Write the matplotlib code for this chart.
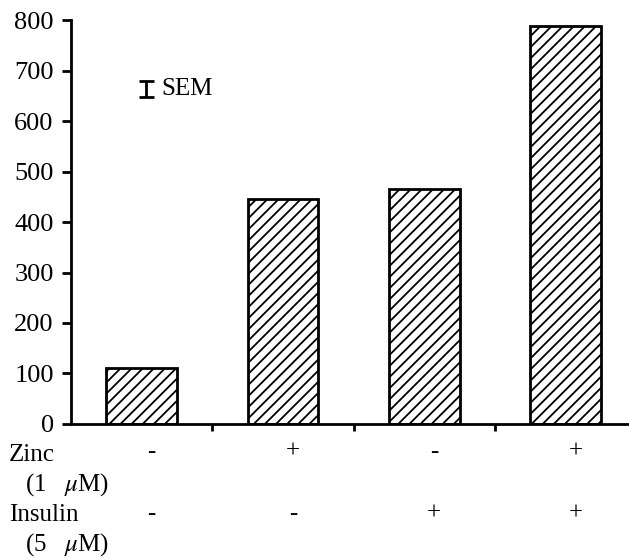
import matplotlib
matplotlib.use("Agg")
import matplotlib.pyplot as plt
from matplotlib.transforms import blended_transform_factory

# bar heights (one bar per treatment)
values = [110, 446, 466, 788]
zinc = ['-', '+', '-', '+']
insulin = ['-', '-', '+', '+']
yticks = [0, 100, 200, 300, 400, 500, 600, 700, 800]

plt.rcParams['font.family'] = ['Liberation Serif', 'DejaVu Serif']
plt.rcParams['mathtext.fontset'] = 'stix'
plt.rcParams['hatch.linewidth'] = 1.3

fig = plt.figure(figsize=(6.29, 5.6), dpi=100)
ax = fig.add_axes([0.113, 0.243, 0.887, 0.721])

x = list(range(len(values)))
ax.bar(x, values, width=0.5, color='white', edgecolor='black',
       linewidth=2, hatch='///')

ax.set_xlim(-0.5, 3.45)
ax.set_ylim(0, 800)
ax.set_yticks(yticks)
ax.tick_params(axis='y', direction='out', length=6.5, width=2, labelsize=19, pad=6)
ax.set_xticks([0.5, 1.5, 2.5])
ax.set_xticklabels([])
ax.tick_params(axis='x', direction='out', length=5, width=2)
for side in ['top', 'right']:
    ax.spines[side].set_visible(False)
for side in ['left', 'bottom']:
    ax.spines[side].set_linewidth(2)

# SEM key
ax.errorbar([0.134], [0.829], yerr=[0.02], transform=ax.transAxes, fmt='none',
            ecolor='black', elinewidth=2, capsize=5.4, capthick=2, clip_on=False)
ax.text(0.161, 0.829, 'SEM', transform=ax.transAxes, fontsize=18, va='center')

# treatment rows under the axis
fig.text(0.014, 0.1875, 'Zinc', fontsize=18, va='center')
fig.text(0.040, 0.134, r'(1   $\mu$M)', fontsize=18, va='center')
fig.text(0.014, 0.080, 'Insulin', fontsize=18, va='center')
fig.text(0.040, 0.028, r'(5   $\mu$M)', fontsize=18, va='center')

tr = blended_transform_factory(ax.transData, fig.transFigure)
for i in x:
    ax.text(i + 0.07, 1 - 452 / 560, zinc[i], transform=tr, fontsize=18,
            ha='center', va='center')
    ax.text(i + 0.07, 1 - 514 / 560, insulin[i], transform=tr, fontsize=18,
            ha='center', va='center')

fig.savefig('out.png', dpi=100)
